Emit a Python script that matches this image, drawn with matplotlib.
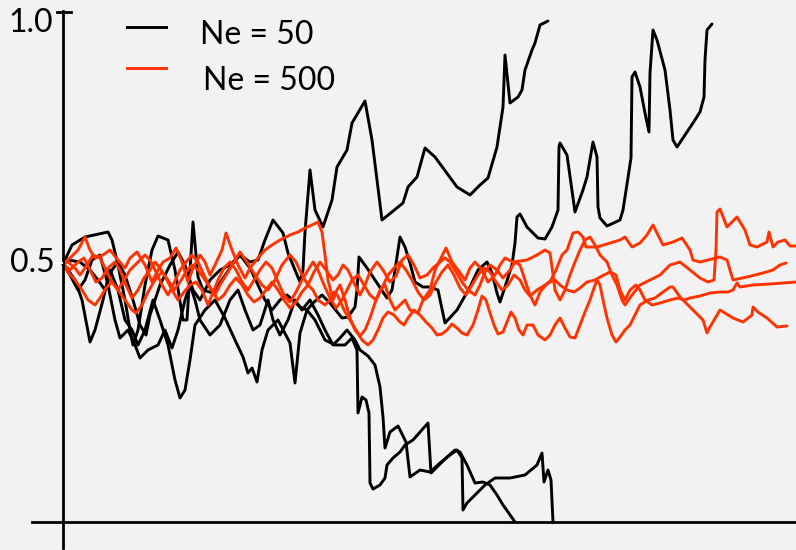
import matplotlib
matplotlib.use("Agg")
import matplotlib.pyplot as plt
from matplotlib.lines import Line2D

# ---------------- data: allele frequency vs generation ----------------
series_labels = ["Ne = 50", "Ne = 500"]
tick_values = [0.5, 1.0]
tick_labels = ["0.5", "1.0"]

ne50_run1 = [(0,0.516),(9,0.554),(22,0.570),(45,0.580),(49,0.564),(55,0.514),(62,0.444),(67,0.384),(70,0.354),(75,0.384),
             (82,0.474),(89,0.544),(95,0.572),(105,0.564),(112,0.504),(120,0.404),(124,0.404),(130,0.600),(135,0.490),(140,0.464),
             (150,0.458),(159,0.484),(169,0.514),(177,0.534),(187,0.520),(195,0.524),(202,0.564),(210,0.604),(220,0.578),(225,0.538),
             (232,0.504),(237,0.480),(240,0.504),(242,0.580),(247,0.704),(252,0.624),(260,0.590),(269,0.644),(274,0.710),(284,0.744),
             (289,0.798),(302,0.842),(309,0.764),(319,0.604),(340,0.638),(345,0.670),(354,0.690),(362,0.748),(372,0.730),(394,0.670),
             (407,0.654),(417,0.674),(425,0.688),(434,0.750),(440,0.830),(442,0.934),(447,0.838),(455,0.850),(459,0.864),(462,0.904),
             (469,0.944),(472,0.958),(477,0.994),(485,1.002)]

ne50_run2 = [(0,0.516),(5,0.524),(17,0.520),(27,0.504),(35,0.484),(42,0.464),(49,0.504),(55,0.520),(62,0.494),(70,0.444),
             (77,0.394),(83,0.374),(87,0.414),(97,0.474),(107,0.514),(115,0.540),(122,0.514),(130,0.464),(137,0.444),(147,0.484),
             (157,0.504),(167,0.514),(177,0.534),(187,0.508),(195,0.474),(202,0.444),(209,0.424),(217,0.444),(224,0.454),(230,0.444),
             (237,0.430),(244,0.424),(250,0.438),(259,0.454),(267,0.438),(279,0.408),(285,0.410),(292,0.430),(294,0.464),(296,0.530),
             (304,0.508),(314,0.478),(324,0.448),(329,0.464),(337,0.570),(342,0.550),(347,0.518),(352,0.480),(360,0.470),(367,0.470),
             (375,0.464),(382,0.398),(394,0.424),(407,0.470),(415,0.504),(424,0.520),(429,0.498),(434,0.458),(437,0.440),(442,0.470),
             (449,0.514),(452,0.558),(454,0.610),(457,0.616),(464,0.590),(475,0.568),(482,0.566),(489,0.590),(495,0.624),(496,0.750),
             (497,0.758),(504,0.734),(512,0.620),(520,0.664),(524,0.690),(530,0.760),(534,0.730),(535,0.630),(537,0.608),(544,0.592),
             (557,0.604),(560,0.624),(568,0.728),(569,0.890),(572,0.900),(577,0.870),(582,0.818),(586,0.780),(587,0.898),(590,0.984),
             (594,0.964),(602,0.904),(607,0.824),(610,0.764),(614,0.750),(620,0.768),(630,0.798),(637,0.820),(641,0.850),(642,0.924),
             (644,0.984),(649,0.996)]

ne50_run3 = [(0,0.516),(5,0.504),(12,0.484),(19,0.444),(27,0.360),(32,0.384),(40,0.444),(47,0.504),(55,0.464),(62,0.404),
             (69,0.384),(75,0.354),(82,0.384),(90,0.444),(97,0.404),(105,0.354),(112,0.284),(117,0.248),(122,0.264),(127,0.324),
             (132,0.394),(142,0.424),(152,0.444),(162,0.408),(172,0.364),(180,0.330),(185,0.298),(189,0.308),(194,0.280),(199,0.344),
             (205,0.384),(215,0.404),(227,0.358),(232,0.278),(237,0.378),(244,0.424),(252,0.404),(262,0.364),(272,0.354),(282,0.354),
             (289,0.368),(294,0.344),(295,0.218),(299,0.250),(303,0.244),(306,0.218),(307,0.078),(310,0.066),(317,0.074),(322,0.088),
             (324,0.114),(330,0.128),(337,0.140),(342,0.154),(350,0.164),(365,0.198),(368,0.098),(374,0.110),(384,0.130),(392,0.144),
             (397,0.140),(404,0.114),(412,0.078),(420,0.080),(427,0.074),(434,0.054),(440,0.034),(445,0.020),(452,0.000)]

ne50_run4 = [(0,0.516),(7,0.494),(15,0.464),(22,0.484),(29,0.524),(37,0.534),(45,0.474),(52,0.404),(57,0.368),(65,0.384),
             (72,0.354),(77,0.328),(85,0.344),(95,0.354),(102,0.384),(109,0.348),(115,0.384),(122,0.444),(127,0.474),(132,0.444),
             (137,0.404),(147,0.374),(157,0.394),(167,0.444),(175,0.464),(182,0.424),(190,0.384),(197,0.394),(205,0.444),(210,0.404),
             (217,0.374),(225,0.404),(232,0.444),(239,0.424),(247,0.444),(255,0.414),(262,0.384),(270,0.354),(277,0.368),(284,0.384),
             (292,0.364),(297,0.344),(305,0.332),(312,0.314),(317,0.270),(320,0.210),(322,0.148),(327,0.180),(335,0.192),(343,0.160),
             (347,0.090),(357,0.104),(367,0.100),(377,0.118),(387,0.134),(394,0.144),(399,0.128),(400,0.024),(404,0.038),(412,0.054),
             (422,0.074),(432,0.088),(447,0.088),(462,0.094),(474,0.114),(479,0.138),(481,0.080),(485,0.104),(488,0.084),(490,0.000)]

ne500_run1 = [(0,0.516),(7,0.528),(15,0.544),(22,0.570),(27,0.544),(32,0.528),(40,0.534),(47,0.544),(55,0.524),(62,0.508),
              (67,0.528),(74,0.540),(82,0.514),(89,0.480),(95,0.504),(100,0.520),(107,0.528),(113,0.548),(119,0.520),(125,0.480),
              (130,0.508),(137,0.534),(142,0.520),(147,0.494),(152,0.514),(159,0.544),(163,0.578),(169,0.544),(175,0.514),(182,0.488),
              (187,0.508),(195,0.528),(202,0.544),(209,0.554),(217,0.564),(227,0.574),(235,0.580),(242,0.588),(249,0.594),(255,0.600),
              (259,0.580),(262,0.534),(265,0.484),(270,0.444),(274,0.464),(277,0.474),(282,0.444),(287,0.408),(292,0.384),(297,0.372),
              (302,0.384),(307,0.408),(312,0.438),(317,0.464),(322,0.474),(327,0.444),(332,0.424),(337,0.434),(342,0.444),(347,0.424),
              (355,0.418),(360,0.444),(367,0.464),(372,0.504),(377,0.524),(383,0.548),(389,0.520),(395,0.504),(402,0.484),(407,0.508),
              (412,0.520),(419,0.504),(425,0.480),(432,0.494),(437,0.514),(442,0.528),(450,0.520),(464,0.524),(474,0.534),(482,0.544),
              (487,0.538),(489,0.510),(492,0.464),(497,0.444),(502,0.464),(507,0.494),(512,0.520),(517,0.544),(522,0.564),(527,0.570),
              (532,0.554),(537,0.534),(544,0.520),(549,0.494),(554,0.474),(559,0.444),(562,0.434),(569,0.454),(577,0.474),(587,0.484),
              (597,0.494),(607,0.514),(617,0.520),(627,0.504),(637,0.488),(645,0.480),(651,0.484),(653,0.544),(654,0.620),(657,0.626),
              (664,0.590),(674,0.610),(682,0.584),(687,0.554),(694,0.550),(704,0.560),(706,0.580),(710,0.550),(715,0.560),(722,0.564),
              (727,0.552),(733,0.552)]

ne500_run2 = [(0,0.516),(5,0.520),(12,0.508),(17,0.494),(24,0.514),(30,0.534),(37,0.528),(43,0.504),(49,0.480),(55,0.464),
              (61,0.484),(67,0.504),(75,0.520),(82,0.534),(87,0.524),(93,0.500),(99,0.474),(105,0.454),(110,0.474),(117,0.504),
              (123,0.520),(129,0.534),(135,0.520),(141,0.494),(147,0.468),(152,0.454),(157,0.474),(165,0.500),(172,0.524),(177,0.540),
              (184,0.520),(192,0.494),(199,0.474),(205,0.464),(212,0.484),(219,0.514),(227,0.534),(233,0.520),(239,0.494),(245,0.474),
              (251,0.500),(257,0.520),(263,0.504),(270,0.484),(275,0.494),(280,0.514),(285,0.504),(292,0.474),(297,0.454),(302,0.474),
              (307,0.500),(314,0.520),(320,0.504),(327,0.480),(333,0.492),(339,0.524),(345,0.534),(351,0.514),(357,0.488),(364,0.494),
              (370,0.508),(377,0.520),(382,0.528),(387,0.520),(392,0.504),(399,0.480),(405,0.464),(412,0.454),(417,0.474),(422,0.500),
              (427,0.514),(434,0.504),(440,0.488),(447,0.504),(452,0.520),(457,0.514),(462,0.484),(467,0.454),(472,0.434),(477,0.460),
              (483,0.474),(488,0.484),(493,0.504),(499,0.534),(504,0.544),(510,0.578),(515,0.580),(520,0.570),(523,0.550),(534,0.550),
              (557,0.564),(562,0.570),(569,0.550),(577,0.558),(584,0.574),(590,0.594),(594,0.578),(600,0.554),(610,0.560),(619,0.568),
              (627,0.544),(630,0.524),(637,0.520),(657,0.530),(664,0.524),(667,0.504),(670,0.484),(684,0.490),(700,0.498),(710,0.504),
              (717,0.514),(723,0.518)]

ne500_run3 = [(0,0.516),(7,0.504),(15,0.520),(21,0.528),(27,0.504),(33,0.480),(39,0.488),(45,0.508),(52,0.520),(57,0.504),
              (63,0.474),(69,0.448),(75,0.464),(81,0.488),(87,0.504),(92,0.520),(97,0.508),(103,0.488),(109,0.464),(115,0.444),
              (121,0.460),(127,0.474),(133,0.480),(139,0.464),(145,0.434),(149,0.454),(155,0.484),(161,0.508),(167,0.520),(173,0.504),
              (179,0.480),(185,0.464),(191,0.484),(197,0.504),(203,0.520),(209,0.508),(215,0.480),(221,0.454),(227,0.440),(233,0.460),
              (239,0.484),(245,0.504),(250,0.520),(255,0.504),(261,0.474),(267,0.448),(273,0.428),(279,0.444),(284,0.464),(289,0.484),
              (295,0.494),(301,0.474),(307,0.454),(313,0.444),(319,0.468),(325,0.494),(331,0.508),(337,0.520),(343,0.504),(349,0.484),
              (355,0.460),(361,0.444),(367,0.454),(373,0.480),(379,0.500),(385,0.514),(391,0.494),(397,0.468),(403,0.454),(409,0.474),
              (415,0.494),(421,0.508),(427,0.500),(433,0.480),(439,0.464),(445,0.474),(451,0.494),(457,0.484),(462,0.464),(467,0.452),
              (474,0.464),(479,0.470),(485,0.478),(492,0.484),(497,0.474),(504,0.464),(511,0.460),(517,0.468),(524,0.480),(532,0.484),
              (539,0.492),(547,0.500),(553,0.494),(557,0.464),(562,0.444),(567,0.464),(573,0.474),(577,0.464),(582,0.444),(589,0.434),
              (597,0.438),(607,0.444),(615,0.448),(621,0.444),(627,0.448),(637,0.452),(647,0.458),(657,0.460),(665,0.460),(670,0.464),
              (674,0.478),(677,0.470),(690,0.474),(707,0.476),(733,0.480)]

ne500_run4 = [(0,0.516),(5,0.500),(12,0.484),(19,0.464),(25,0.444),(32,0.434),(37,0.448),(43,0.468),(49,0.480),(55,0.464),
              (62,0.444),(69,0.424),(73,0.418),(79,0.434),(85,0.460),(92,0.484),(99,0.500),(105,0.484),(111,0.464),(117,0.480),
              (123,0.500),(129,0.514),(135,0.504),(142,0.484),(149,0.464),(155,0.444),(161,0.454),(167,0.474),(173,0.488),(179,0.474),
              (185,0.454),(191,0.440),(197,0.448),(203,0.464),(209,0.480),(215,0.464),(221,0.444),(227,0.428),(233,0.440),(239,0.460),
              (245,0.474),(250,0.464),(255,0.444),(262,0.434),(267,0.444),(271,0.460),(275,0.452),(281,0.424),(287,0.404),(293,0.384),
              (299,0.364),(305,0.354),(310,0.364),(315,0.384),(320,0.408),(325,0.420),(331,0.414),(337,0.400),(341,0.394),(345,0.408),
              (351,0.424),(357,0.414),(363,0.400),(369,0.388),(374,0.374),(379,0.376),(384,0.384),(389,0.396),(394,0.388),(399,0.378),
              (404,0.374),(410,0.394),(415,0.424),(419,0.452),(423,0.444),(427,0.418),(431,0.394),(435,0.376),(440,0.380),(444,0.400),
              (448,0.420),(452,0.408),(456,0.384),(460,0.374),(464,0.394),(470,0.394),(475,0.374),(482,0.364),(487,0.374),(492,0.394),
              (497,0.408),(502,0.388),(507,0.370),(512,0.368),(517,0.394),(522,0.420),(527,0.444),(531,0.468),(534,0.484),(537,0.474),
              (540,0.444),(544,0.408),(549,0.374),(553,0.360),(557,0.370),(562,0.384),(567,0.394),(572,0.414),(577,0.434),(585,0.444),
              (592,0.448),(600,0.460),(607,0.470),(610,0.470),(617,0.450),(630,0.424),(640,0.404),(644,0.378),(647,0.390),(657,0.424),
              (670,0.408),(680,0.400),(689,0.414),(690,0.430),(695,0.420),(704,0.408),(714,0.390),(724,0.392)]

ne50_runs = [ne50_run1, ne50_run2, ne50_run3, ne50_run4]
ne500_runs = [ne500_run1, ne500_run2, ne500_run3, ne500_run4]

# ---------------- styling ----------------
BG = "#f2f2f2"
BLACK = "#000000"
ORANGE = "#ff3300"
FONT = ["Lato", "DejaVu Sans"]
LW = 2.1

W, H = 796, 550
fig = plt.figure(figsize=(W / 100, H / 100), dpi=100, facecolor=BG)
ax = fig.add_axes([63 / W, 28 / H, 733 / W, 510 / H])
ax.set_facecolor(BG)
ax.set_xlim(0, 733)
ax.set_ylim(0, 1.02)
for s in ax.spines.values():
    s.set_visible(False)
ax.set_xticks([])
ax.set_yticks([])

for run in ne50_runs:
    g, f = zip(*run)
    ax.plot(g, f, color=BLACK, lw=LW, solid_joinstyle="round", solid_capstyle="round", clip_on=False)
for run in ne500_runs:
    g, f = zip(*run)
    ax.plot(g, f, color=ORANGE, lw=LW, solid_joinstyle="round", solid_capstyle="round", clip_on=False)

# axes lines (extending past the origin like the original drawing)
fig.add_artist(Line2D([63 / W, 63 / W], [1 - 548 / H, 1 - 11 / H], color=BLACK, lw=2.0))
fig.add_artist(Line2D([32 / W, 1.0], [1 - 522 / H, 1 - 522 / H], color=BLACK, lw=2.0))
fig.add_artist(Line2D([57 / W, 71 / W], [1 - 11.5 / H, 1 - 11.5 / H], color=BLACK, lw=2.0))
fig.add_artist(Line2D([55 / W, 62 / W], [1 - 263 / H, 1 - 263 / H], color="white", lw=1.5))

# tick labels
fig.text(53 / W, 1 - 32 / H, tick_labels[1], ha="right", va="baseline", fontsize=23, family=FONT)
fig.text(55 / W, 1 - 272 / H, tick_labels[0], ha="right", va="baseline", fontsize=23, family=FONT)

# legend
fig.add_artist(Line2D([127 / W, 166 / W], [1 - 27 / H, 1 - 27 / H], color=BLACK, lw=LW))
fig.add_artist(Line2D([127 / W, 166 / W], [1 - 68 / H, 1 - 68 / H], color=ORANGE, lw=LW))
fig.text(200 / W, 1 - 44 / H, series_labels[0], ha="left", va="baseline", fontsize=23, family=FONT)
fig.text(203 / W, 1 - 90 / H, series_labels[1], ha="left", va="baseline", fontsize=23, family=FONT)

fig.savefig("out.png", dpi=100, facecolor=BG)
